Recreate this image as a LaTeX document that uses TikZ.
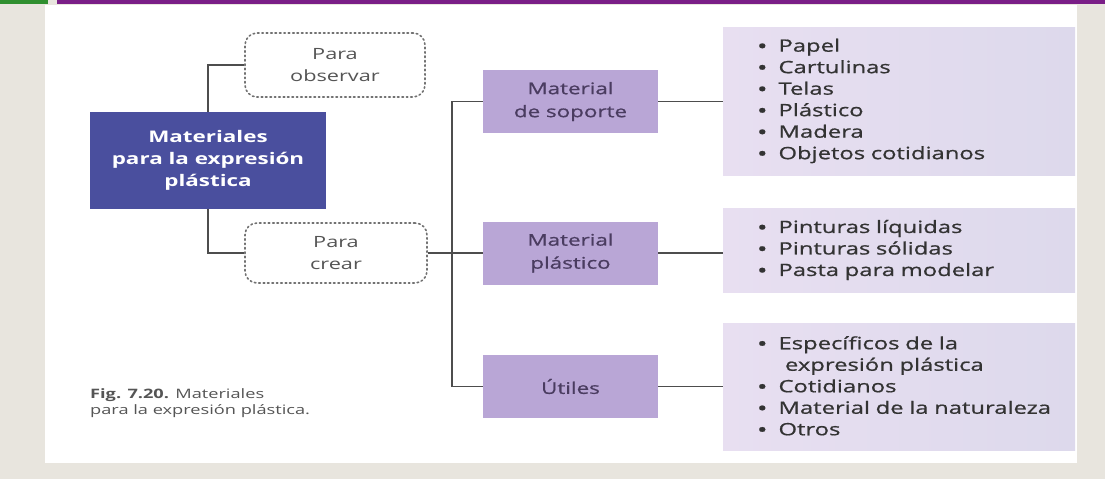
\documentclass[tikz,border=0pt]{standalone}
\usepackage{fontspec}
\setmainfont{Open Sans}[FakeStretch=1.4]
\newfontfamily\medfont{Open Sans}[FakeStretch=1.4, FakeBold=0.8]
\usetikzlibrary{positioning}

\definecolor{mainblue}{HTML}{4A4F9E}
\definecolor{boxlila}{HTML}{B9A6D6}
\definecolor{listleft}{HTML}{E8DFF1}
\definecolor{listright}{HTML}{DDD9EC}
\definecolor{linegray}{HTML}{4D4D4D}
\definecolor{softgray}{HTML}{555555}
\definecolor{lilatext}{HTML}{4A3C60}
\definecolor{listtext}{HTML}{333333}
\definecolor{pagebeige}{HTML}{E8E5DE}
\definecolor{bargreen}{HTML}{2F8F2F}
\definecolor{barpurple}{HTML}{7A1E87}

\newcommand\itm[1]{\hspace*{23pt}\raisebox{-1.5pt}{\fontsize{20}{20}\selectfont\textbullet}\hspace{11pt}#1}

\begin{document}
\begin{tikzpicture}[x=1pt,y=-1pt,
    conn/.style={draw=linegray, line width=1.5},
    mainbox/.style={fill=mainblue, text=white, align=center, inner sep=0,
      font=\fontsize{16}{22}\selectfont\bfseries},
    paradot/.style={draw=linegray!80, line width=1.6, dash pattern=on 1.6pt off 2.8pt,
      line cap=round, rounded corners=12, text=softgray, align=center, inner sep=0,
      font=\fontsize{15.5}{22}\selectfont},
    lilabox/.style={fill=boxlila, text=lilatext, align=center, inner sep=0,
      minimum width=175, minimum height=63, font=\medfont\fontsize{16}{23}\selectfont},
    listbox/.style={left color=listleft, right color=listright, text=listtext,
      align=left, text width=330, inner xsep=11, inner ysep=0,
      font=\medfont\fontsize{17}{21.5}\selectfont}]
    \useasboundingbox (0,0) rectangle (1105,479);
    % page
    \fill [pagebeige] (0,0) rectangle (1105,479);
    \fill [white] (45,5) rectangle (1077,463);
    \fill [bargreen] (0,0) rectangle (48,3.5);
    \fill [barpurple] (57,0) rectangle (1105,3.5);
    % left part
    \node [mainbox, minimum width=236, minimum height=97] (main) at (208,160.5)
      {Materiales\\para la expresión\\plástica};
    \node [paradot, minimum width=180, minimum height=64] (obs) at (335,65) {Para\\observar};
    \node [paradot, minimum width=182, minimum height=60] (crear) at (336,253) {Para\\crear};
    % middle
    \node [lilabox] (soporte) at (570.5,101.5) {Material\\de soporte};
    \node [lilabox] (plastico) at (570.5,253) {Material\\plástico};
    \node [lilabox] (utiles) at (570.5,386.5) {Útiles};
    \coordinate (trunk) at (452,253);
    % lists
    \node [listbox, minimum height=148] (lsoporte) at (899,101) {\itm{Papel}\\\itm{Cartulinas}\\\itm{Telas}\\\itm{Plástico}\\\itm{Madera}\\\itm{Objetos cotidianos}};
    \node [listbox, minimum height=84] (lplastico) at (899,250) {\itm{Pinturas líquidas}\\\itm{Pinturas sólidas}\\\itm{Pasta para modelar}};
    \node [listbox, minimum height=127] (lutiles) at (899,386.5) {\itm{Específicos de la}\\\hspace*{51pt}expresión plástica\\\itm{Cotidianos}\\\itm{Material de la naturaleza}\\\itm{Otros}};
    % caption
    \node [anchor=north west, align=left, inner sep=0, text=softgray,
      font=\fontsize{13}{16}\selectfont] (caption) at (90,388)
      {{\bfseries Fig. 7.20.} Materiales\\para la expresión plástica.};
    % connectors
    \draw [conn] (main.north) |- (obs.west);
    \draw [conn] (main.south) |- (crear.west);
    \draw [conn] (crear.east) -- (plastico.west);
    \draw [conn] (soporte.west) -| (trunk) |- (utiles.west);
    \draw [conn] (soporte.east) -- (soporte.east -| lsoporte.west);
    \draw [conn] (plastico.east) -- (plastico.east -| lplastico.west);
    \draw [conn] (utiles.east) -- (utiles.east -| lutiles.west);
\end{tikzpicture}
\end{document}
